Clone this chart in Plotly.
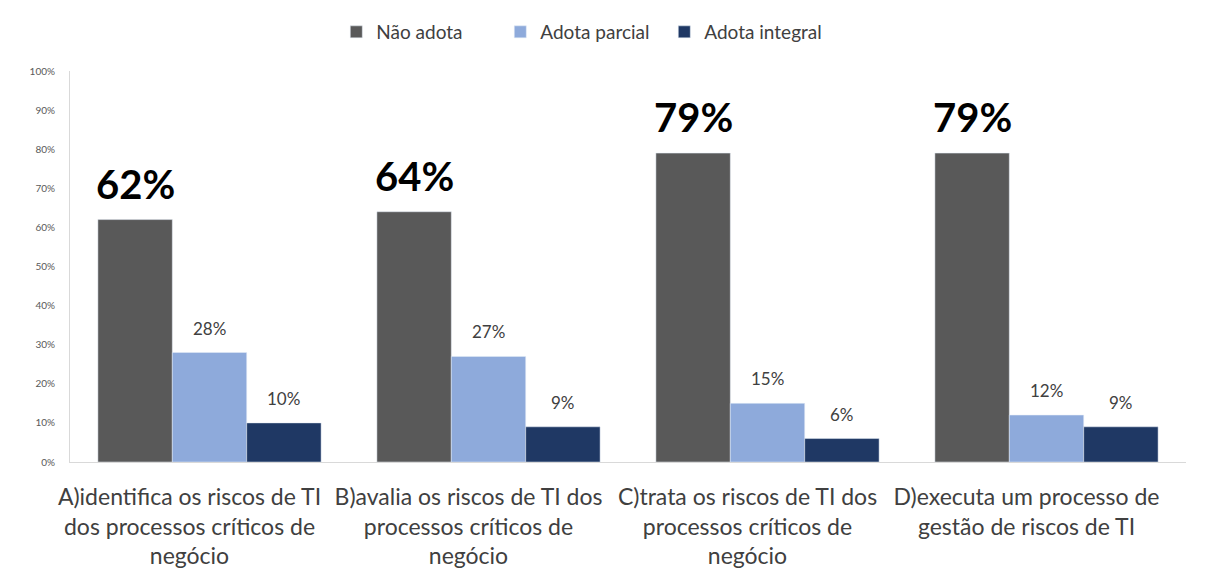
import plotly.graph_objects as go

categories = [
    "A)identifica os riscos de TI<br>dos processos críticos de<br>negócio",
    "B)avalia os riscos de TI dos<br>processos críticos de<br>negócio",
    "C)trata os riscos de TI dos<br>processos críticos de<br>negócio",
    "D)executa um processo de<br>gestão de riscos de TI",
]
nao_adota = [62, 64, 79, 79]
adota_parcial = [28, 27, 15, 12]
adota_integral = [10, 9, 6, 9]
y_ticks = list(range(0, 101, 10))
y_tick_labels = [f"{v}%" for v in y_ticks]

series = [
    ("Não adota", nao_adota, "#595959"),
    ("Adota parcial", adota_parcial, "#8eaadb"),
    ("Adota integral", adota_integral, "#1f3864"),
]
BARGAP = 0.2
W, H = 1189, 565  # page body adds an 8px margin

fig = go.Figure()
for name, vals, color in series:
    fig.add_bar(name=name, x=categories, y=vals, marker_color=color)

# value labels above each bar
n = len(series)
w = (1 - BARGAP) / n
annotations = []
for i, (name, vals, color) in enumerate(series):
    big = i == 0
    for j, v in enumerate(vals):
        annotations.append(dict(
            x=j + (i - (n - 1) / 2) * w, y=v, xref="x", yref="y",
            text=f"<b>{v}%</b>" if big else f"{v}%",
            showarrow=False, yanchor="bottom", xanchor="center",
            yshift=10 if big else 12,
            font=dict(size=40 if big else 17, color="#000000" if big else "#404040",
                      family="Lato"),
        ))

fig.update_layout(
    width=W, height=H,
    paper_bgcolor="white", plot_bgcolor="white",
    margin=dict(l=62, r=11, t=63, b=111, autoexpand=False),
    barmode="group", bargap=BARGAP, bargroupgap=0,
    font=dict(family="Lato", color="#404040"),
    legend=dict(orientation="h", x=0.483, xanchor="center", xref="container",
                y=1 - 24 / H, yanchor="middle", yref="container",
                font=dict(size=19, color="#404040"), traceorder="normal",
                entrywidth=119, entrywidthmode="pixels"),
    annotations=annotations,
)
fig.update_xaxes(showline=True, linecolor="#d9d9d9", linewidth=1, ticks="",
                 tickfont=dict(size=23, color="#404040"), showgrid=False,
                 automargin=False, tickangle=0, ticklabelstandoff=14,
                 ticklabelshift=-20)
fig.update_yaxes(range=[0, 100], tickvals=y_ticks, ticktext=y_tick_labels,
                 showline=True, linecolor="#d9d9d9", linewidth=1, showgrid=False,
                 zeroline=False, ticks="", tickfont=dict(size=10, color="#595959"),
                 ticklabelstandoff=12, automargin=False)

fig.write_html("out.html")
